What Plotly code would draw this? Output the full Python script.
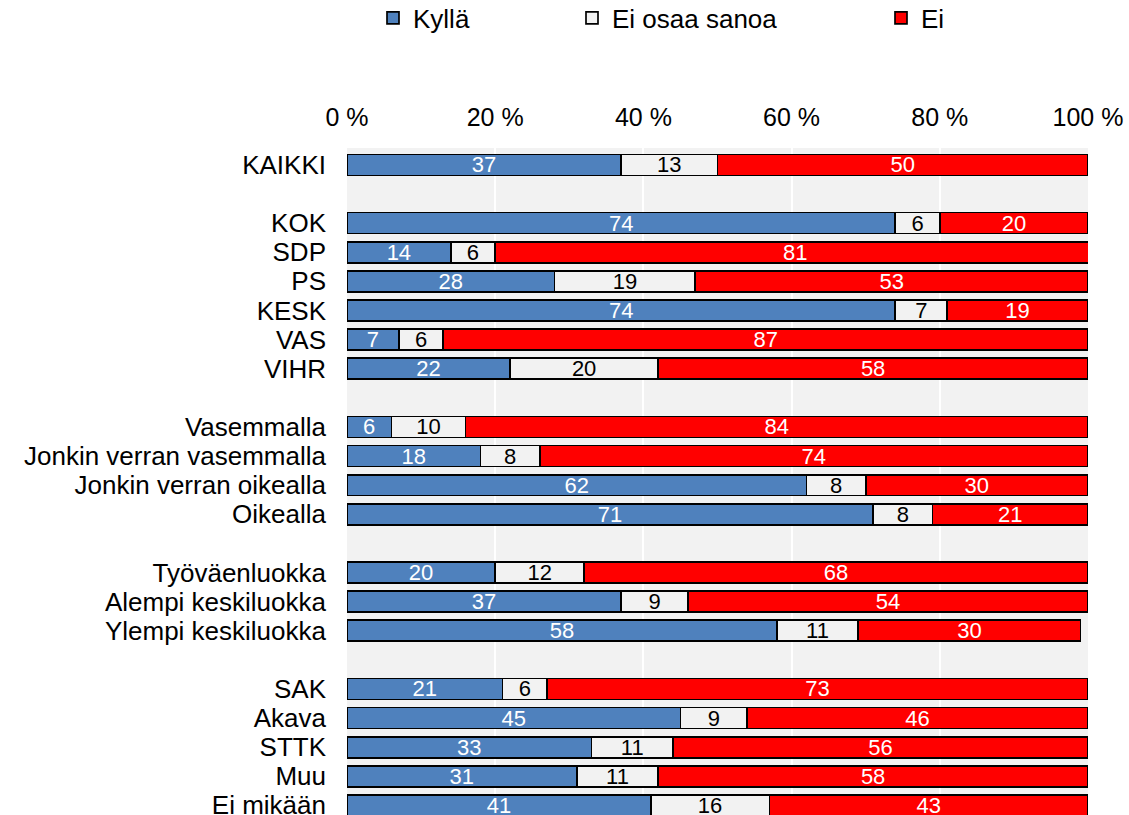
import plotly.graph_objects as go

categories = ["KAIKKI", "",
              "KOK", "SDP", "PS", "KESK", "VAS", "VIHR", "",
              "Vasemmalla", "Jonkin verran vasemmalla", "Jonkin verran oikealla", "Oikealla", "",
              "Työväenluokka", "Alempi keskiluokka", "Ylempi keskiluokka", "",
              "SAK", "Akava", "STTK", "Muu", "Ei mikään"]

kylla = [37, None, 74, 14, 28, 74, 7, 22, None, 6, 18, 62, 71, None, 20, 37, 58, None, 21, 45, 33, 31, 41]
eos = [13, None, 6, 6, 19, 7, 6, 20, None, 10, 8, 8, 8, None, 12, 9, 11, None, 6, 9, 11, 11, 16]
ei = [50, None, 20, 81, 53, 19, 87, 58, None, 84, 74, 30, 21, None, 68, 54, 30, None, 73, 46, 56, 58, 43]

series_names = ["Kyllä", "Ei osaa sanoa", "Ei"]
series_values = [kylla, eos, ei]
colors = ["#4f81bd", "#f2f2f2", "#ff0000"]
text_colors = ["white", "black", "white"]
tick_values = [0, 20, 40, 60, 80, 100]
tick_labels = ["0 %", "20 %", "40 %", "60 %", "80 %", "100 %"]

FONT = "Liberation Sans, Arial, sans-serif"

positions = list(range(len(categories)))

W_PLOT = 1088 - 347
legend_left_px = [373, 572, 881]

fig = go.Figure()
for i, (name, vals) in enumerate(zip(series_names, series_values)):
    fig.add_trace(go.Bar(
        y=positions, x=vals, name=name, orientation="h",
        marker=dict(color=colors[i], line=dict(color="black", width=1.7)),
        width=0.72,
        text=[("" if v is None else str(v)) for v in vals],
        textposition="inside", insidetextanchor="middle", textangle=0,
        insidetextfont=dict(color=text_colors[i], size=22, family=FONT),
        legend="legend" if i == 0 else f"legend{i+1}",
        showlegend=True,
        hoverinfo="x+name",
    ))

legend_common = dict(orientation="h", yref="container", yanchor="middle", y=1 - 18 / 815,
                     xanchor="left",
                     font=dict(size=26, family=FONT, color="black"),
                     bgcolor="rgba(0,0,0,0)", borderwidth=0, visible=True)
fig.update_layout(
    barmode="stack",
    width=1129, height=815,
    showlegend=True,
    margin=dict(l=347, r=41, t=148, b=0, autoexpand=False),
    plot_bgcolor="#f2f2f2", paper_bgcolor="white",
    font=dict(family=FONT, size=26, color="black"),
    uniformtext=dict(minsize=22, mode="show"),
    legend=dict(x=(legend_left_px[0] - 347) / W_PLOT, **legend_common),
    legend2=dict(x=(legend_left_px[1] - 347) / W_PLOT, **legend_common),
    legend3=dict(x=(legend_left_px[2] - 347) / W_PLOT, **legend_common),
    xaxis=dict(side="top", range=[0, 100], tickvals=tick_values, ticktext=tick_labels,
               showgrid=True, gridcolor="white", gridwidth=2, zeroline=False,
               showline=False, ticks="", ticklabelstandoff=16, automargin=False,
               tickfont=dict(size=25, family=FONT, color="black"), fixedrange=True),
    yaxis=dict(range=[22.33, -0.58], tickvals=positions, ticktext=categories,
               showgrid=False, zeroline=False, showline=False, ticks="",
               ticklabelstandoff=20, ticklabeloverflow="allow", automargin=False,
               tickfont=dict(size=26, family=FONT, color="black"), fixedrange=True),
)

fig.write_html("out.html", config={"displayModeBar": False},
               post_script="document.body.style.margin='0px';")
